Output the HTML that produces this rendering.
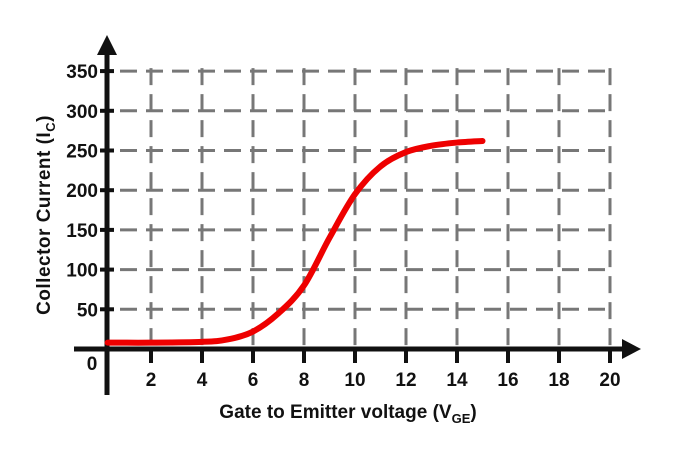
<!DOCTYPE html>
<html><head><meta charset="utf-8"><style>
body{margin:0;background:#fff;}
svg text{font-family:"Liberation Sans Narrow","Liberation Sans",sans-serif;fill:#111;}
</style></head><body>
<svg id="chart" width="690" height="450" viewBox="0 0 690 450" xmlns="http://www.w3.org/2000/svg">
<g id="grid"></g>
<g id="axes"></g>
<g id="labels"></g>
<g id="series"></g>
<text transform="translate(50,215) rotate(-90)" text-anchor="middle" font-size="19" font-weight="bold" letter-spacing="0.5">Collector Current (I<tspan font-size="13" dy="5">C</tspan><tspan dy="-5">)</tspan></text>
<text x="348" y="418" text-anchor="middle" font-size="19" font-weight="bold">Gate to Emitter  voltage (V<tspan font-size="13" dy="5">GE</tspan><tspan dy="-5">)</tspan></text>
</svg>
<script>
const xTicks = [2,4,6,8,10,12,14,16,18,20];
const yTicks = [50,100,150,200,250,300,350];
const vge = [0.3,2,4,5,6,7,8,9,10,11,12,13,14,15];
const ic = [8,8,9,12,22,45,80,140,195,230,248,256,260,262];
const NS="http://www.w3.org/2000/svg";
const sx=v=>100+v*25.5;
const sy=v=>349-v*0.794;
function mk(tag,attrs,parent){const e=document.createElementNS(NS,tag);for(const k in attrs)e.setAttribute(k,attrs[k]);parent.appendChild(e);return e;}
const grid=document.getElementById('grid'),axes=document.getElementById('axes'),labels=document.getElementById('labels'),series=document.getElementById('series');
yTicks.forEach(v=>{
  const l=mk('line',{x1:120,x2:sx(20),y1:sy(v),y2:sy(v),stroke:'#777','stroke-width':3,'stroke-dasharray':'17 9'},grid);
  
  
  const t=mk('line',{x1:100,x2:114,y1:sy(v),y2:sy(v),stroke:'#111','stroke-width':4},axes);
  
  
  const tx=mk('text',{x:98,y:sy(v)+7,'text-anchor':'end','font-size':19,'font-weight':'bold'},labels);
  tx.textContent=v;
  
  
});
xTicks.forEach(v=>{
  const l=mk('line',{x1:sx(v),x2:sx(v),y1:sy(350)-3,y2:349,stroke:'#777','stroke-width':3,'stroke-dasharray':'17 9'},grid);
  
  
  const t=mk('line',{x1:sx(v),x2:sx(v),y1:349,y2:363,stroke:'#111','stroke-width':4},axes);
  
  
  const tx=mk('text',{x:sx(v),y:386,'text-anchor':'middle','font-size':19,'font-weight':'bold'},labels);
  tx.textContent=v;
  
  
});
const z=mk('text',{x:92,y:370,'text-anchor':'middle','font-size':19,'font-weight':'bold'},labels);
z.textContent='0';


const xa=mk('line',{x1:74,x2:625,y1:349,y2:349,stroke:'#111','stroke-width':5},axes);


const xar=mk('polygon',{points:'622,339 641,349 622,359',fill:'#111'},axes);


const ya=mk('line',{x1:107,x2:107,y1:395,y2:52,stroke:'#111','stroke-width':5},axes);


const yar=mk('polygon',{points:'97,55 107,35 117,55',fill:'#111'},axes);


// smooth curve through points (Catmull-Rom)
const pts=vge.map((v,i)=>[sx(v),sy(ic[i])]);
let d='M'+pts[0][0]+','+pts[0][1];
for(let i=0;i<pts.length-1;i++){
  const p0=pts[Math.max(0,i-1)],p1=pts[i],p2=pts[i+1],p3=pts[Math.min(pts.length-1,i+2)];
  const c1=[p1[0]+(p2[0]-p0[0])/6,p1[1]+(p2[1]-p0[1])/6];
  const c2=[p2[0]-(p3[0]-p1[0])/6,p2[1]-(p3[1]-p1[1])/6];
  d+=` C${c1[0]},${c1[1]} ${c2[0]},${c2[1]} ${p2[0]},${p2[1]}`;
}
const c=mk('path',{d:d,fill:'none',stroke:'#ee0000','stroke-width':6,'stroke-linecap':'round'},series);


</script>
</body></html>
